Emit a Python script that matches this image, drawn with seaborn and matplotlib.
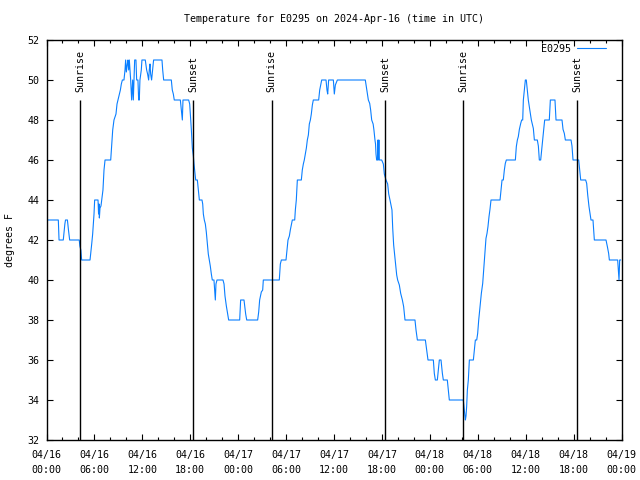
import pandas as pd
import seaborn as sns
import matplotlib.pyplot as plt
import matplotlib.dates as mdates

start = pd.Timestamp('2024-04-16 00:00')

# hours since start, temperature in F
day1_hours = [0, 1.48, 1.57, 2.1, 2.2, 2.3, 2.38, 2.62, 2.75, 2.9, 4.1, 4.18, 4.3, 4.4, 5.45, 5.53,
              5.66, 5.78, 5.95, 6.03, 6.45, 6.52, 6.58, 6.62, 6.7, 6.82, 6.91, 7.07, 7.2, 7.33, 8.04,
              8.16, 8.29, 8.45, 8.7, 8.83, 8.95, 9.12, 9.25, 9.37, 9.5, 9.7, 9.83, 9.91, 10.0, 10.12,
              10.2, 10.29, 10.37, 10.54, 10.66, 10.79, 10.87, 10.96, 11.04, 11.2, 11.29, 11.45, 11.54,
              11.62, 11.7, 11.87, 11.95, 12.37, 12.54, 12.66, 12.79, 12.87, 12.96, 13.04, 13.16, 13.29,
              13.41, 14.46, 14.55, 14.67, 15.63, 15.75, 15.88, 16.0, 16.76, 16.88, 17.01, 17.09, 17.8,
              17.93, 18.01, 18.14, 18.26, 18.39, 18.47, 18.55, 18.68, 18.89, 19.01, 19.14, 19.47, 19.56,
              19.64, 19.76, 19.89, 20.01, 20.14, 20.26, 20.39, 20.51, 20.64, 20.76, 20.97, 21.06, 21.14,
              21.22, 21.35, 22.1, 22.23, 22.35, 22.52, 22.69, 22.81]
day1_temps = [43, 43, 42, 42, 42.4, 42.8, 43, 43, 42.5, 42, 42, 41.7, 41.5, 41, 41, 41.3,
              41.8, 42.3, 43.3, 44, 44, 43.3, 43.8, 43.1, 43.6, 43.7, 44, 44.5, 45.5, 46, 46,
              46.7, 47.5, 48, 48.3, 48.8, 49, 49.3, 49.5, 49.8, 50, 50, 50.5, 51, 50.4, 50.8,
              51, 50.5, 51, 50, 49, 50, 49, 50, 51, 51, 50, 50, 49,
              49, 50, 50.5, 51, 51, 50.5, 50.3, 50, 50.5, 50.8, 50.3, 50, 50.5,
              51, 51, 50.5, 50, 50, 49.5, 49.3, 49, 49, 48.5, 48, 49, 49,
              48.8, 48.3, 47.5, 46.6, 46.2, 45.8, 45.5, 45, 45, 44.5, 44, 44, 43.8,
              43.3, 43, 42.8, 42.4, 41.8, 41.3, 41, 40.7, 40.3, 40, 40, 39.5, 39,
              39.8, 40, 40, 39.8, 39.2, 38.7, 38.3, 38]

day2_hours = [24.19, 24.31, 24.73, 24.94, 25.07, 26.44, 26.57, 26.69, 26.9, 27.07, 27.15, 29.15,
              29.28, 29.41, 29.99, 30.12, 30.24, 30.41, 30.53, 30.66, 30.78, 31.08, 31.16, 31.28,
              31.41, 31.91, 32.03, 32.16, 32.28, 32.41, 32.54, 32.66, 32.79, 32.91, 33.04, 33.16,
              33.29, 33.41, 34.08, 34.21, 34.33, 34.46, 35.0, 35.12, 35.21, 35.33, 35.92, 36.04,
              36.17, 36.42, 39.92, 40.05, 40.17, 40.3, 40.47, 40.59, 40.72, 40.9, 41.0, 41.13, 41.2,
              41.26, 41.34, 41.45, 41.5, 41.55, 41.62, 41.68, 41.97, 42.18, 42.3, 42.51, 42.72,
              42.85, 43.01, 43.26, 43.35, 43.47, 43.6, 43.72, 43.85, 43.97, 44.18, 44.35, 44.56,
              44.72, 44.89, 46.14, 46.27, 46.44, 47.44, 47.6, 47.77]
day2_temps = [38, 39, 39, 38.3, 38, 38, 38.4, 39, 39.4, 39.5, 40, 40,
              40.8, 41, 41, 41.5, 42, 42.2, 42.5, 42.75, 43, 43, 43.5, 44,
              45, 45, 45.5, 45.8, 46, 46.3, 46.6, 47, 47.25, 47.8, 48, 48.3,
              48.75, 49, 49, 49.5, 49.75, 50, 50, 49.5, 49.3, 50, 50, 49.3,
              49.75, 50, 50, 49.67, 49.33, 49, 48.83, 48.5, 48, 47.8, 47.5, 47, 46.8,
              46.3, 46, 46, 47, 46, 47, 46, 46, 45.8, 45.3, 45, 44.8,
              44.3, 44, 43.5, 42.6, 41.75, 41.25, 40.75, 40.25, 40, 39.75, 39.33, 39,
              38.67, 38, 38, 37.5, 37, 37, 36.5, 36]

day3_hours = [48.44, 48.56, 48.69, 48.94, 49.11, 49.19, 49.4, 49.57, 49.69, 50.19, 50.32, 50.44,
              52.19, 52.28, 52.36, 52.45, 52.53, 52.61, 52.7, 52.82, 52.95, 53.45, 53.57, 53.7,
              53.87, 53.99, 54.12, 54.28, 54.45, 54.62, 54.74, 54.91, 55.03, 55.16, 55.28, 55.41,
              55.53, 55.66, 56.79, 56.91, 57.04, 57.2, 57.33, 57.45, 57.58, 58.71, 58.83, 58.96,
              59.08, 59.21, 59.38, 59.5, 59.63, 59.71, 59.83, 59.96, 60.08, 60.21, 60.33, 60.46,
              60.58, 60.71, 60.96, 61.09, 61.46, 61.59, 61.71, 61.88, 62.0, 62.13, 62.26, 62.38,
              62.96, 63.09, 63.67, 63.8, 64.55, 64.68, 64.84, 64.97, 65.68, 65.8, 65.93, 66.64,
              66.76, 66.89, 67.51, 67.64, 67.77, 67.93, 68.06, 68.18, 68.43, 68.6, 70.06, 70.23,
              70.39, 70.48, 71.52, 71.6, 71.69, 71.77, 71.9]
day3_temps = [36, 35.33, 35, 35, 35.67, 36, 36, 35.33, 35, 35, 34.5, 34,
              34, 33.67, 33.33, 33, 33.2, 33.67, 34.5, 35, 36, 36, 36.5, 37,
              37, 37.33, 38, 38.67, 39.33, 39.83, 40.5, 41.5, 42.08, 42.33, 42.67, 43.17,
              43.53, 44, 44, 44.5, 45, 45, 45.5, 45.83, 46, 46, 46.67, 47,
              47.17, 47.53, 47.83, 48, 48, 49, 49.5, 50, 50, 49.5, 49, 48.67,
              48.33, 48, 47.58, 47, 47, 46.7, 46, 46, 46.5, 47, 47.53, 48,
              48, 49, 49, 48, 48, 47.53, 47.33, 47, 47, 46.7, 46, 46,
              45.5, 45, 45, 44.83, 44.25, 43.67, 43.33, 43, 43, 42, 42, 41.67,
              41.33, 41, 41, 40.5, 40, 41, 41]

sun_times = ['2024-04-16 04:11', '2024-04-16 18:23', '2024-04-17 04:12',
             '2024-04-17 18:25', '2024-04-18 04:11', '2024-04-18 18:26']
sun_labels = ['Sunrise', 'Sunset', 'Sunrise', 'Sunset', 'Sunrise', 'Sunset']

tick_times = pd.date_range('2024-04-16 00:00', '2024-04-19 00:00', freq='6h')
y_ticks = list(range(32, 53, 2))

hours = day1_hours + day2_hours + day3_hours
temps = day1_temps + day2_temps + day3_temps
df = pd.DataFrame({'time': start + pd.to_timedelta(hours, unit='h'), 'temp': temps})

sns.set_style('white')
plt.rcParams['font.family'] = ['DejaVu Sans Mono']
plt.rcParams['font.size'] = 7.2
for k in ['text.color', 'axes.labelcolor', 'xtick.color', 'ytick.color']:
    plt.rcParams[k] = 'black'

fig = plt.figure(figsize=(6.4, 4.8), dpi=100)
ax = fig.add_axes([46.5 / 640, 40 / 480, 575 / 640, 400 / 480])

sns.lineplot(data=df, x='time', y='temp', ax=ax, color='#0a7fff', lw=0.8,
             label='E0295', sort=False, estimator=None)

# sunrise / sunset markers
sun = pd.to_datetime(sun_times)
ax.vlines(sun, 32, 49, colors='black', lw=1)
for t, lab in zip(sun, sun_labels):
    ax.text(t, 49.4, lab, rotation=90, ha='center', va='bottom', fontsize=7.2)

ax.set_xlim(tick_times[0], tick_times[-1])
ax.set_ylim(32, 52)
ax.set_xticks(tick_times)
ax.set_xticklabels([t.strftime('%m/%d\n%H:%M') for t in tick_times], linespacing=1.6)
ax.xaxis.set_minor_locator(mdates.HourLocator(interval=2))
ax.set_yticks(y_ticks)
ax.tick_params(which='both', direction='in', top=True, right=True, bottom=True, left=True,
               colors='black', labelsize=7.2)
ax.tick_params(which='major', length=4, width=0.8, pad=5)
ax.tick_params(axis='x', which='major', pad=7)
ax.tick_params(which='minor', length=2.5, width=0.8)
ax.set_xlabel('')
ax.set_ylabel('')
for s in ax.spines.values():
    s.set_color('black')
    s.set_linewidth(1)

ax.legend(loc='center right', bbox_to_anchor=(0.981, 0.9775), frameon=False,
          markerfirst=False, handlelength=2.9, handletextpad=0.6, borderpad=0, fontsize=7.2)

fig.text(333.5 / 640, 1 - 19 / 480, 'Temperature for E0295 on 2024-Apr-16 (time in UTC)',
         ha='center', va='center', fontsize=7.2)
fig.text(10 / 640, 0.5, 'degrees F', rotation=90, ha='center', va='center', fontsize=7.2)

fig.savefig('out.png', dpi=100)
